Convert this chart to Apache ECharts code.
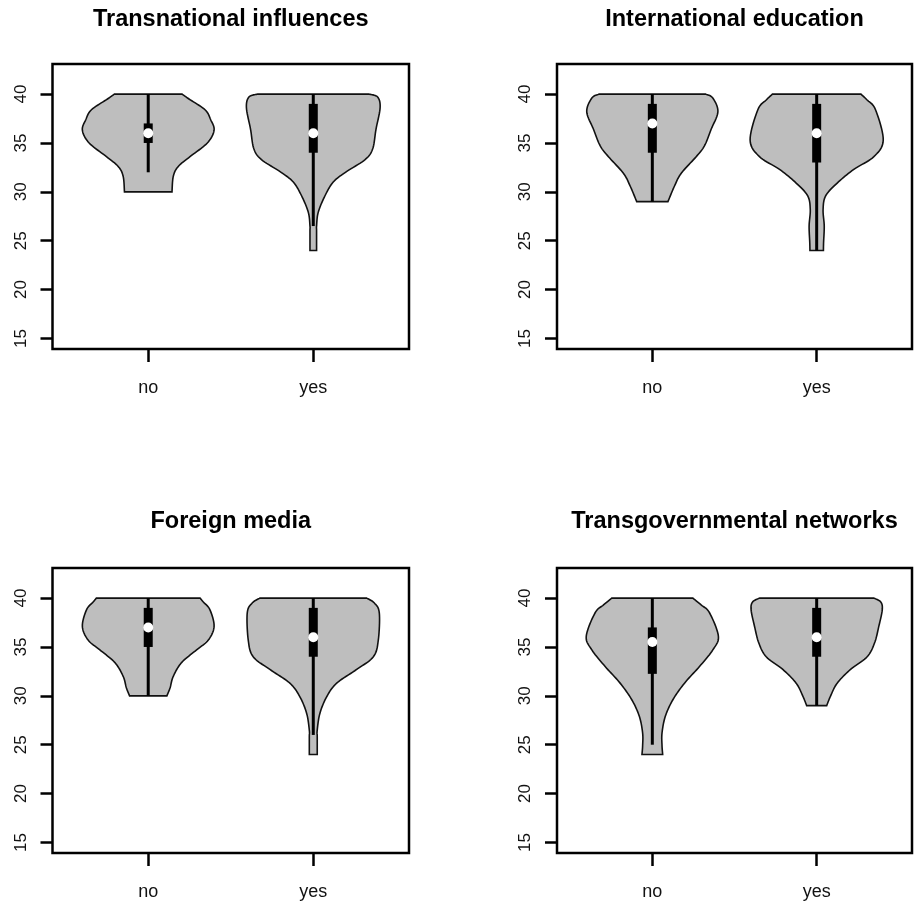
<!DOCTYPE html>
<html><head><meta charset="utf-8">
<script src="https://cdn.jsdelivr.net/npm/echarts@6/dist/echarts.min.js"></script>
<style>html,body{margin:0;padding:0;background:#fff}#c{width:915px;height:905px}</style>
</head><body><div id="c"></div>
<script>
// ---------------- DATA ----------------
const panelTitles = ['Transnational influences', 'International education', 'Foreign media', 'Transgovernmental networks'];
const groups = ['no', 'yes'];
const groupPositions = [1, 2];
const yTicks = [15, 20, 25, 30, 35, 40];

// Violin density profiles: y levels (top to bottom) and half-widths (in x-axis units)
const ti_no_y  = [40, 39.5, 38.4, 37.4, 36.3, 35.0, 33.6, 32.6, 31.6, 30.0];
const ti_no_w  = [0.205, 0.247, 0.344, 0.378, 0.399, 0.358, 0.253, 0.182, 0.152, 0.144];
const ti_yes_y = [40, 39.7, 38.6, 36.4, 34.4, 33.3, 32.0, 31.0, 29.6, 27.9, 26.5, 26.0, 24.0];
const ti_yes_w = [0.337, 0.39, 0.405, 0.380, 0.36, 0.314, 0.195, 0.121, 0.071, 0.03, 0.02, 0.02, 0.02];

const ie_no_y  = [40, 39.6, 38.2, 36.4, 34.7, 33.6, 31.9, 30.6, 29.0];
const ie_no_w  = [0.324, 0.368, 0.399, 0.358, 0.317, 0.267, 0.176, 0.135, 0.095];
const ie_yes_y = [40, 39.4, 38.4, 35.3, 33.6, 32.3, 30.9, 29.6, 28.2, 26.5, 24.8, 24.0];
const ie_yes_w = [0.269, 0.307, 0.358, 0.405, 0.348, 0.226, 0.125, 0.055, 0.039, 0.046, 0.042, 0.041];

const fm_no_y  = [40, 39.6, 38.8, 37.1, 35.7, 34.7, 33.4, 32.0, 30.8, 30.0];
const fm_no_w  = [0.314, 0.334, 0.374, 0.399, 0.364, 0.293, 0.202, 0.152, 0.132, 0.113];
const fm_yes_y = [40, 39.5, 38.5, 35.7, 34.0, 32.7, 31.3, 29.9, 28.2, 26.5, 25.8, 24.0];
const fm_yes_w = [0.324, 0.37, 0.40, 0.394, 0.364, 0.263, 0.142, 0.081, 0.04, 0.024, 0.024, 0.024];

const tn_no_y  = [40, 39.3, 38.5, 36.1, 34.7, 33.0, 31.3, 29.6, 27.9, 26.2, 24.9, 24.0];
const tn_no_w  = [0.247, 0.297, 0.348, 0.402, 0.368, 0.287, 0.196, 0.125, 0.079, 0.059, 0.059, 0.063];
const tn_yes_y = [40, 39.6, 38.8, 37.1, 35.4, 34.0, 32.7, 31.3, 30.0, 29.0];
const tn_yes_w = [0.348, 0.39, 0.399, 0.378, 0.352, 0.307, 0.206, 0.125, 0.085, 0.061];

// Box statistics: [lower whisker, Q1, median, Q3, upper whisker]
const ti_no_stats  = [32, 35, 36, 37, 40];
const ti_yes_stats = [26.5, 34, 36, 39, 40];
const ie_no_stats  = [29, 34, 37, 39, 40];
const ie_yes_stats = [24, 33, 36, 39, 40];
const fm_no_stats  = [30, 35, 37, 39, 40];
const fm_yes_stats = [26, 34, 36, 39, 40];
const tn_no_stats  = [25, 32.25, 35.5, 37, 40];
const tn_yes_stats = [29, 34, 36, 39, 40];

// ---------------- BUILD ----------------
const panels = [
  [{y: ti_no_y, w: ti_no_w, s: ti_no_stats}, {y: ti_yes_y, w: ti_yes_w, s: ti_yes_stats}],
  [{y: ie_no_y, w: ie_no_w, s: ie_no_stats}, {y: ie_yes_y, w: ie_yes_w, s: ie_yes_stats}],
  [{y: fm_no_y, w: fm_no_w, s: fm_no_stats}, {y: fm_yes_y, w: fm_yes_w, s: fm_yes_stats}],
  [{y: tn_no_y, w: tn_no_w, s: tn_no_stats}, {y: tn_yes_y, w: tn_yes_w, s: tn_yes_stats}]
];

const gridRects = [
  {left: 52.5, top: 64, width: 356.5, height: 285},
  {left: 557, top: 64, width: 355, height: 285},
  {left: 52.5, top: 568, width: 356.5, height: 285},
  {left: 557, top: 568, width: 355, height: 285}
];
const titleTops = [8, 8, 509.5, 509.5];
const FONT = "'Liberation Sans', Arial, Helvetica, sans-serif";

function catmull(p, n) {
  const out = [];
  for (let i = 0; i < p.length - 1; i++) {
    const p0 = p[Math.max(i - 1, 0)], p1 = p[i], p2 = p[i + 1], p3 = p[Math.min(i + 2, p.length - 1)];
    for (let t = 0; t < n; t++) {
      const s = t / n, s2 = s * s, s3 = s2 * s;
      const f = (a, b, c, d) => 0.5 * (2 * b + (-a + c) * s + (2 * a - 5 * b + 4 * c - d) * s2 + (-a + 3 * b - 3 * c + d) * s3);
      out.push([f(p0[0], p1[0], p2[0], p3[0]), f(p0[1], p1[1], p2[1], p3[1])]);
    }
  }
  out.push(p[p.length - 1]);
  return out;
}

function makeRender(pi) {
  return function (params, api) {
    const pos = api.value(0);
    const v = panels[pi][api.value(1)];
    const left = v.y.map((yy, k) => api.coord([pos - v.w[k], yy]));
    const right = v.y.map((yy, k) => api.coord([pos + v.w[k], yy]));
    const poly = catmull(left, 10).concat(catmull(right, 10).reverse());
    const s = v.s;
    const cx = api.coord([pos, s[2]])[0];
    const yLo = api.coord([pos, s[0]])[1];
    const yQ1 = api.coord([pos, s[1]])[1];
    const yMed = api.coord([pos, s[2]])[1];
    const yQ3 = api.coord([pos, s[3]])[1];
    const yHi = api.coord([pos, s[4]])[1];
    return {
      type: 'group',
      children: [
        {type: 'polygon', shape: {points: poly}, style: {fill: '#bebebe', stroke: '#111', lineWidth: 1.6}},
        {type: 'line', shape: {x1: cx, y1: yLo, x2: cx, y2: yHi}, style: {stroke: '#000', lineWidth: 3}},
        {type: 'rect', shape: {x: cx - 4.5, y: yQ3, width: 9, height: yQ1 - yQ3}, style: {fill: '#000'}},
        {type: 'circle', shape: {cx: cx, cy: yMed, r: 5}, style: {fill: '#fff'}}
      ]
    };
  };
}

const option = {
  animation: false,
  backgroundColor: '#fff',
  title: panelTitles.map((t, i) => ({
    text: t,
    left: gridRects[i].left + gridRects[i].width / 2,
    top: titleTops[i],
    textAlign: 'center',
    padding: 0,
    textStyle: {fontFamily: FONT, fontSize: 23.5, fontWeight: 'bold', color: '#000'}
  })),
  grid: gridRects.map(r => Object.assign({show: true, borderColor: '#000', borderWidth: 2.5, containLabel: false}, r)),
  xAxis: gridRects.map((r, i) => ({
    type: 'value', gridIndex: i, min: 0.42, max: 2.58,
    axisLine: {show: false},
    splitLine: {show: false},
    axisTick: {show: true, inside: false, length: 13, customValues: groupPositions, lineStyle: {color: '#000', width: 2.5}},
    axisLabel: {show: true, customValues: groupPositions, margin: 30, fontFamily: FONT, fontSize: 18, color: '#111',
      formatter: val => groups[Math.round(val) - 1]}
  })),
  yAxis: gridRects.map((r, i) => ({
    type: 'value', gridIndex: i, min: 13.92, max: 43.08,
    axisLine: {show: false},
    splitLine: {show: false},
    axisTick: {show: true, inside: false, length: 12, customValues: yTicks, lineStyle: {color: '#000', width: 2.5}},
    axisLabel: {show: true, customValues: yTicks, rotate: 90, margin: 23, fontFamily: FONT, fontSize: 17, color: '#111'}
  })),
  series: panels.map((p, i) => ({
    type: 'custom', xAxisIndex: i, yAxisIndex: i,
    renderItem: makeRender(i),
    encode: {x: 0, y: 2},
    data: groupPositions.map((g, k) => [g, k, panels[i][k].s[2]]),
    silent: true
  }))
};

const chart = echarts.init(document.getElementById('c'), null, {renderer: 'canvas'});
chart.setOption(option);
</script>
</body></html>
